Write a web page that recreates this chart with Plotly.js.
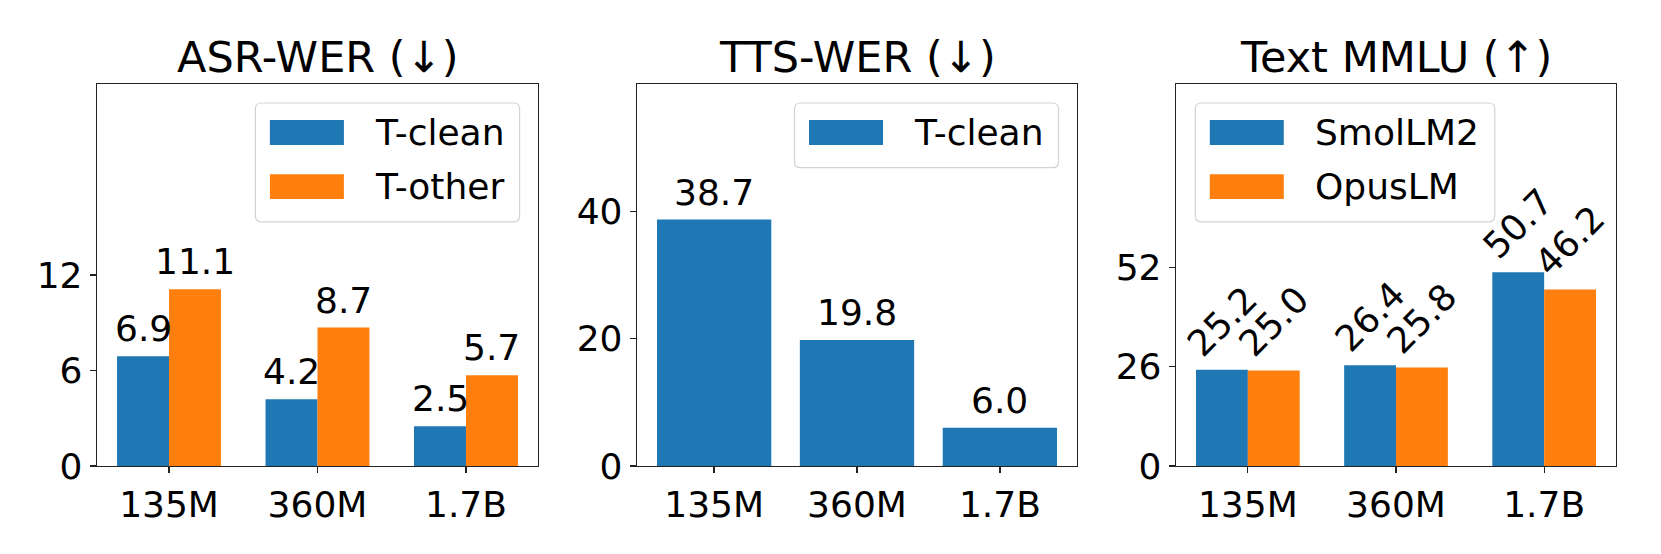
<!DOCTYPE html>
<html>
<head>
<meta charset="utf-8">
<script src="https://cdn.plot.ly/plotly-3.0.1.min.js"></script>
<style>html,body{margin:0;padding:0;background:#fff;}#chart{width:1661px;height:554px;}</style>
</head>
<body>
<div id="chart"></div>
<script>
// ---- data ----
const sizes = ['135M', '360M', '1.7B'];
const asrClean = [6.9, 4.2, 2.5];
const asrOther = [11.1, 8.7, 5.7];
const ttsClean = [38.7, 19.8, 6.0];
const mmluSmol = [25.2, 26.4, 50.7];
const mmluOpus = [25.0, 25.8, 46.2];
const asrTicks = [0, 6, 12];
const ttsTicks = [0, 20, 40];
const mmluTicks = [0, 26, 52];
const titles = ['ASR-WER (↓)', 'TTS-WER (↓)', 'Text MMLU (↑)'];
const asrNames = ['T-clean', 'T-other'];
const ttsNames = ['T-clean'];
const mmluNames = ['SmolLM2', 'OpusLM'];

// ---- style ----
const BLUE = '#1f77b4', ORANGE = '#ff7f0e';
const FONT = 'DejaVu Sans, sans-serif';
const W = 1661, H = 554;
const fx = p => p / W;
const fy = p => 1 - p / H;
const panels = [[97, 538], [637, 1077], [1176, 1616]];
const yTop = 84, yBot = 466;

const traces = [];
function addBar(vals, color, ax, width, offset) {
  traces.push({
    type: 'bar', x: sizes, y: vals, xaxis: 'x' + ax, yaxis: 'y' + ax,
    width: width, offset: offset, marker: {color: color, line: {width: 0}},
    showlegend: false, hoverinfo: 'skip'
  });
}
addBar(asrClean, BLUE, '', 0.35, -0.35);
addBar(asrOther, ORANGE, '', 0.35, 0);
addBar(ttsClean, BLUE, '2', 0.8, -0.4);
addBar(mmluSmol, BLUE, '3', 0.35, -0.35);
addBar(mmluOpus, ORANGE, '3', 0.35, 0);

const annotations = [];
const shapes = [];

function valueLabels(vals, ax, dx, angle) {
  vals.forEach((v, i) => {
    const a = {
      xref: 'x' + ax, yref: 'y' + ax, x: i + dx, y: v,
      text: v.toFixed(1), showarrow: false,
      xanchor: 'center', yanchor: 'bottom',
      font: {family: FONT, size: 36, color: '#000'}
    };
    if (angle) { a.textangle = angle; a.yshift = 3; } else { a.yshift = 5; }
    annotations.push(a);
  });
}
valueLabels(asrClean, '', -0.175);
valueLabels(asrOther, '', 0.175);
valueLabels(ttsClean, '2', 0);
valueLabels(mmluSmol, '3', -0.175, -45);
valueLabels(mmluOpus, '3', 0.175, -45);

// titles
titles.forEach((t, k) => {
  annotations.push({
    xref: 'paper', yref: 'paper', x: fx((panels[k][0] + panels[k][1]) / 2), y: fy(yTop),
    text: t, showarrow: false, xanchor: 'center', yanchor: 'bottom', yshift: 0,
    font: {family: FONT, size: 43, color: '#000'}
  });
});

// legends
function roundRect(x0, y0, x1, y1, r) {
  const P = (x, y) => fx(x) + ',' + fy(y);
  return 'M' + P(x0 + r, y0) + ' L' + P(x1 - r, y0) + ' Q' + P(x1, y0) + ' ' + P(x1, y0 + r) +
    ' L' + P(x1, y1 - r) + ' Q' + P(x1, y1) + ' ' + P(x1 - r, y1) +
    ' L' + P(x0 + r, y1) + ' Q' + P(x0, y1) + ' ' + P(x0, y1 - r) +
    ' L' + P(x0, y0 + r) + ' Q' + P(x0, y0) + ' ' + P(x0 + r, y0) + ' Z';
}
function legend(left, right, names, colors) {
  const top = 103;
  const bottom = names.length === 1 ? 167.7 : 221.8;
  shapes.push({type: 'path', xref: 'paper', yref: 'paper', path: roundRect(left, top, right, bottom, 6),
    line: {color: '#d3d3d3', width: 1.2}, fillcolor: 'rgba(255,255,255,0.8)', layer: 'above'});
  names.forEach((n, i) => {
    const cy = 132.5 + i * 54.1;
    shapes.push({type: 'rect', xref: 'paper', yref: 'paper',
      x0: fx(left + 14.5), x1: fx(left + 88.5), y0: fy(cy - 12.4), y1: fy(cy + 12.4),
      line: {width: 0}, fillcolor: colors[i], layer: 'above'});
    annotations.push({xref: 'paper', yref: 'paper', x: fx(left + 117.5), y: fy(cy),
      text: n, showarrow: false, xanchor: 'left', yanchor: 'middle',
      font: {family: FONT, size: 36, color: '#000'}});
  });
}
legend(255.4, 519.6, asrNames, [BLUE, ORANGE]);
legend(794.5, 1058.5, ttsNames, [BLUE]);
legend(1195.3, 1494.8, mmluNames, [BLUE, ORANGE]);

function xAxis(k, range, anchor) {
  return {
    domain: [fx(panels[k][0]), fx(panels[k][1])], anchor: anchor,
    type: 'category', categoryarray: sizes, range: range,
    showline: true, mirror: true, linecolor: '#222', linewidth: 1.3,
    ticks: 'outside', ticklen: 6, tickwidth: 1.3, tickcolor: '#222',
    showgrid: false, zeroline: false, fixedrange: true,
    tickfont: {family: FONT, size: 36, color: '#000'}
  };
}
function yAxis(k, range, tv, anchor) {
  return {
    domain: [fy(yBot), fy(yTop)], anchor: anchor, range: range,
    tickvals: tv, ticktext: tv.map(String),
    showline: true, mirror: true, linecolor: '#222', linewidth: 1.3,
    ticks: 'outside', ticklen: 6, tickwidth: 1.3, tickcolor: '#222',
    showgrid: false, zeroline: false, fixedrange: true,
    tickfont: {family: FONT, size: 36, color: '#000'}
  };
}

const layout = {
  width: W, height: H, margin: {l: 0, r: 0, t: 0, b: 0},
  paper_bgcolor: '#fff', plot_bgcolor: '#fff',
  barmode: 'overlay', showlegend: false,
  font: {family: FONT, color: '#000'},
  xaxis: xAxis(0, [-0.485, 2.485], 'y'),
  yaxis: yAxis(0, [0, 24], asrTicks, 'x'),
  xaxis2: xAxis(1, [-0.54, 2.54], 'y2'),
  yaxis2: yAxis(1, [0, 60], ttsTicks, 'x2'),
  xaxis3: xAxis(2, [-0.485, 2.485], 'y3'),
  yaxis3: yAxis(2, [0, 100], mmluTicks, 'x3'),
  annotations: annotations,
  shapes: shapes
};

Plotly.newPlot('chart', traces, layout, {displayModeBar: false, staticPlot: true});
</script>
</body>
</html>
